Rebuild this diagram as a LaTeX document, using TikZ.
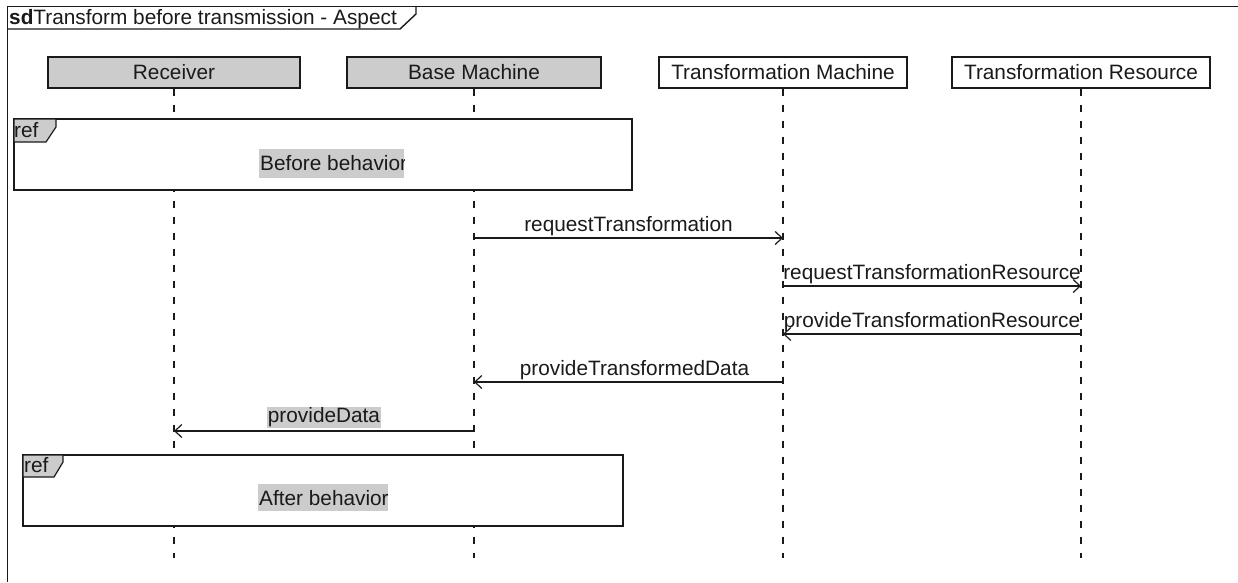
\documentclass[tikz,border=0pt]{standalone}
\usepackage{fontspec}
\setmainfont{Liberation Sans}
\usetikzlibrary{arrows.meta}
\definecolor{boxgray}{HTML}{CCCCCC}
\definecolor{ink}{HTML}{1A1A1A}
\tikzset{
  frameline/.style={draw=ink, line width=1.4pt},
  head/.style={draw=ink, line width=1.4pt, minimum height=31pt, inner sep=0pt, text=ink},
  lifeline/.style={draw=ink, line width=1.2pt, dash pattern=on 7pt off 9pt},
  refbox/.style={draw=ink, line width=1.4pt, fill=white},
  reftab/.style={draw=ink, line width=1.2pt, fill=boxgray},
  msg/.style={draw=ink, line width=1.4pt, -{Straight Barb[length=7pt,width=13pt,line width=1.2pt]}},
  lbl/.style={text=ink, inner sep=0pt, above=1.5pt},
}
\begin{document}
\begin{tikzpicture}[x=1pt, y=-1pt, font=\fontsize{20.8}{25}\selectfont]
\useasboundingbox (0,0) rectangle (1238,582);

% outer sd frame and its name tab
\draw[frameline] (1238,6.5) -- (7.5,6.5) -- (7.5,582);
\draw[frameline] (7.5,29) -- (400,29) -- (416,14) -- (416,6.5);
\node[anchor=base west, inner sep=0pt, text=ink] (sdname) at (9,24.5) {\textbf{sd}Transform before transmission - Aspect};

% lifeline heads
\node[head, fill=boxgray, minimum width=252pt] (rcv) at (174,72.5) {Receiver};
\node[head, fill=boxgray, minimum width=254pt] (bm) at (474,72.5) {Base Machine};
\node[head, fill=white, minimum width=248pt] (tm) at (783,72.5) {Transformation Machine};
\node[head, fill=white, minimum width=258pt] (tr) at (1081,72.5) {Transformation Resource};

% lifelines
\coordinate (bottom) at (0,558);
\foreach \l in {rcv,bm,tm,tr} {
  \draw[lifeline] (\l.south) -- (\l.south |- bottom);
}

% interaction use: before
\draw[refbox] (14,119) rectangle (632,190);
\draw[reftab] (14,119) -- (56,119) -- (56,127) -- (46,142) -- (14,142) -- cycle;
\node[anchor=base west, inner sep=0pt, text=ink] (ref1) at (14,137) {ref};
\begin{scope}
  \clip (259,149) rectangle (404,178);
  \fill[boxgray] (259,149) rectangle (404,178);
  \node[anchor=base west, inner sep=0pt, text=ink] (before) at (260,170.5) {Before behavior};
\end{scope}

% interaction use: after
\draw[refbox] (23,455) rectangle (623,526);
\draw[reftab] (23,455) -- (63,455) -- (63,462) -- (54,477) -- (23,477) -- cycle;
\node[anchor=base west, inner sep=0pt, text=ink] (ref2) at (24,472) {ref};
\begin{scope}
  \clip (258,484) rectangle (388,511);
  \fill[boxgray] (258,484) rectangle (388,511);
  \node[anchor=base west, inner sep=0pt, text=ink] (after) at (259,505) {After behavior};
\end{scope}

% message levels
\coordinate (y1) at (0,238);
\coordinate (y2) at (0,286);
\coordinate (y3) at (0,334);
\coordinate (y4) at (0,382);
\coordinate (y5) at (0,431);
\coordinate (bm1) at (bm.south |- y1);
\coordinate (tm1) at (tm.south |- y1);
\coordinate (tm2) at (tm.south |- y2);
\coordinate (tr2) at (tr.south |- y2);
\coordinate (tm3) at (tm.south |- y3);
\coordinate (tr3) at (tr.south |- y3);
\coordinate (tm4) at (tm.south |- y4);
\coordinate (bm4) at (bm.south |- y4);
\coordinate (bm5) at (bm.south |- y5);
\coordinate (rcv5) at (rcv.south |- y5);

% messages
\draw[msg] (bm1) -- node[lbl] (m1) {requestTransformation} (tm1);
\draw[msg] (tm2) -- node[lbl] (m2) {requestTransformationResource} (tr2);
\draw[msg] (tr3) -- node[lbl] (m3) {provideTransformationResource} (tm3);
\draw[msg] (tm4) -- node[lbl, xshift=6pt] (m4) {provideTransformedData} (bm4);
\draw[msg] (bm5) -- node[lbl, fill=boxgray, inner sep=1pt, above=0.5pt] (m5) {provideData} (rcv5);
\end{tikzpicture}
\end{document}
